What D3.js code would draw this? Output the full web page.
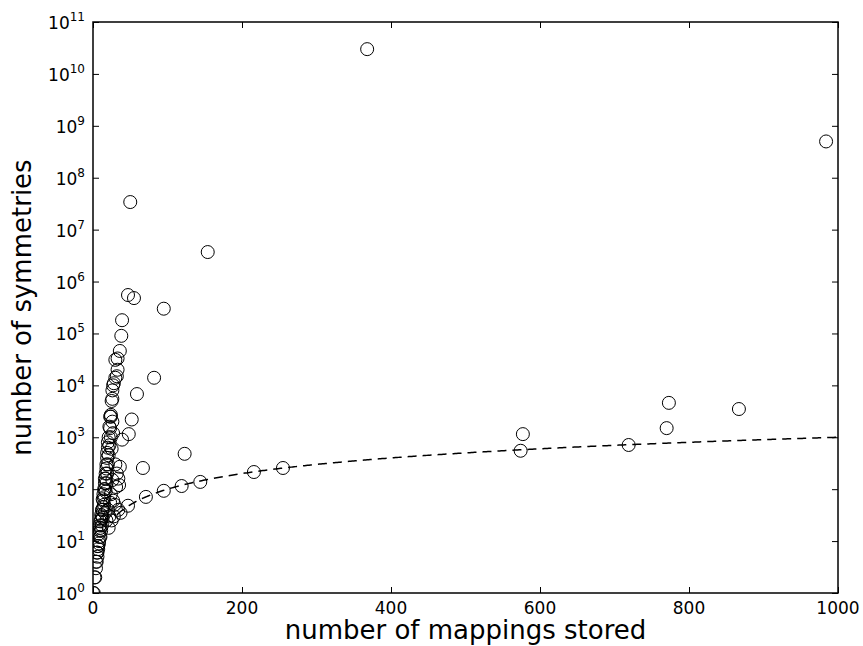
<!DOCTYPE html>
<html><head><meta charset="utf-8">
<script src="https://cdn.jsdelivr.net/npm/d3@7"></script>
<style>body{margin:0;background:#fff}svg{display:block}text{font-family:"DejaVu Sans",sans-serif}</style>
</head><body><svg id="c" width="863" height="646"></svg>
<script>
// data: [mappings stored, symmetries]
const clusterX = [0,1,2,3,4,4,5,5,6,6,7,8,9,10,9,10,11,10,11,12,12,13,13,14,14,15,16,16,17,17,18,18,19,19,20,20,21,22,23,23,24,24,25,26,27,28,30,32,33,30,33,36,38,39,26,25,27,
                  6,7,8,8,9,11,12,13,14,15,15,16,17,18,19,20,21,22,24,26];
const clusterY = [1,1,2,2,3,4,4,6,6,8,8,10,12,12,16,18,16,24,26,40,30,40,64,60,80,100,100,130,160,200,250,300,400,500,630,800,1000,1600,1500,2500,2500,2700,5000,5500,10000,11000,14000,15000,20000,31000,33000,46000,90000,180000,8000,600,1200,
                  5,7,14,9,20,32,20,28,45,70,50,160,90,130,200,300,450,700,1000,2000];
const extraX = [20,24,25,27,31,34,34,36,39,18,22,29,32,37,28,30,35,21,26,23,16];
const extraY = [40,80,25,60,110,40,160,270,900,25,30,50,200,35,30,300,120,18,150,55,35];
const outX = [368,984,50,154,47,55,95,82,59,52,48,67,123];
const outY = [3e10,5e8,3.4e7,3.7e6,5.5e5,4.8e5,3e5,1.4e4,6.8e3,2.2e3,1150,256,480];
const lineX = [47,71,95,119,144,216,255,574,719];
const lineY = [48,71,93,115,138,214,256,550,710];
const highX = [577,770,773,867];
const highY = [1150,1500,4600,3500];
const xTicks = [0,200,400,600,800,1000];
const yExp = [0,1,2,3,4,5,6,7,8,9,10,11];
const refLineStart = 32, refLineEnd = 1000; // reference curve y = x

const svg = d3.select("#c");
const L=93,R=838,T=22,B=593;
const x = d3.scaleLinear().domain([0,1000]).range([L,R]);
const y = d3.scaleLog().domain([1,1e11]).range([B,T]);

const pts = [];
[[clusterX,clusterY],[extraX,extraY],[outX,outY],[lineX,lineY],[highX,highY]].forEach(([a,b])=>a.forEach((v,i)=>pts.push([v,b[i]])));

svg.append("clipPath").attr("id","cl").append("rect").attr("x",L).attr("y",T).attr("width",R-L).attr("height",B-T);
const g = svg.append("g").attr("clip-path","url(#cl)");

const refLine = d3.range(refLineStart, refLineEnd+1, 2).map(v=>[v,v]);
g.append("path").datum(refLine)
 .attr("d",d3.line().x(d=>x(d[0])).y(d=>y(d[1])))
 .attr("fill","none").attr("stroke","#000").attr("stroke-width",1.5).attr("stroke-dasharray","9,6");

g.selectAll("circle").data(pts).enter().append("circle")
 .attr("cx",d=>x(d[0])).attr("cy",d=>y(d[1])).attr("r",6.5)
 .attr("fill","none").attr("stroke","#000").attr("stroke-width",1);

// axes (ticks inward)
const ax = svg.append("g");
ax.append("g").attr("transform",`translate(0,${B})`).call(d3.axisBottom(x).tickValues(xTicks).tickSize(-6).tickFormat("")).call(s=>s.select(".domain").remove());
ax.append("g").attr("transform",`translate(0,${T})`).call(d3.axisTop(x).tickValues(xTicks).tickSize(-6).tickFormat("")).call(s=>s.select(".domain").remove());
ax.append("g").attr("transform",`translate(${L},0)`).call(d3.axisLeft(y).tickValues(yExp.map(e=>Math.pow(10,e))).tickSize(-6).tickFormat("")).call(s=>s.select(".domain").remove());
ax.append("g").attr("transform",`translate(${R},0)`).call(d3.axisRight(y).tickValues(yExp.map(e=>Math.pow(10,e))).tickSize(-6).tickFormat("")).call(s=>s.select(".domain").remove());
ax.selectAll(".tick line").attr("stroke","#000").attr("stroke-width",1);
svg.append("rect").attr("x",L).attr("y",T).attr("width",R-L).attr("height",B-T).attr("fill","none").attr("stroke","#000").attr("stroke-width",1.5);

// tick labels
svg.selectAll(".xl").data(xTicks).enter().append("text")
 .attr("x",d=>x(d)).attr("y",B+21).attr("text-anchor","middle").attr("font-size",17).text(d=>d);
const yl = svg.selectAll(".yl").data(yExp).enter().append("text")
 .attr("x",L-8).attr("y",d=>y(Math.pow(10,d))+7).attr("text-anchor","end").attr("font-size",17);
yl.append("tspan").text("10");
yl.append("tspan").attr("dy",-8).attr("font-size",12).text(d=>d);

svg.append("text").attr("x",(L+R)/2).attr("y",639).attr("text-anchor","middle").attr("font-size",26).text("number of mappings stored");
svg.append("text").attr("transform",`translate(31,${(T+B)/2}) rotate(-90)`).attr("text-anchor","middle").attr("font-size",26).text("number of symmetries");
</script></body></html>
